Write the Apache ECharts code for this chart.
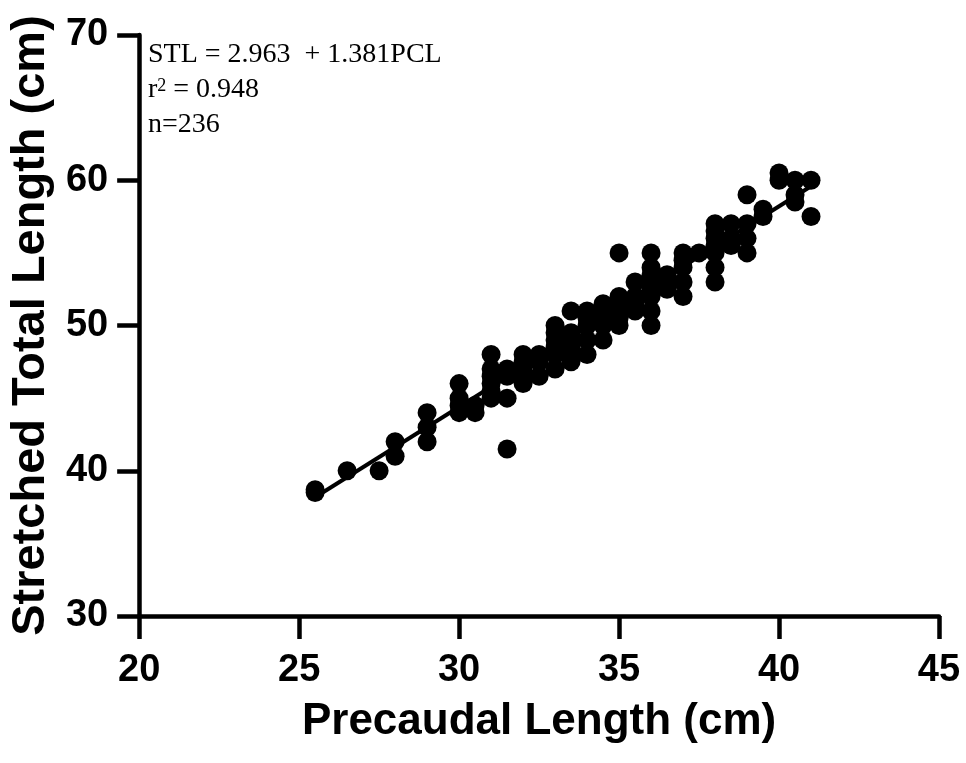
<!DOCTYPE html>
<html>
<head>
<meta charset="utf-8">
<script src="https://cdn.jsdelivr.net/npm/echarts@6/dist/echarts.min.js"></script>
<style>
html,body{margin:0;padding:0;background:#fff;}
#c{width:966px;height:763px;}
</style>
</head>
<body>
<div id="c"></div>
<script>
// Precaudal length (cm) and stretched total length (cm) pairs
const pcl = [
  25.5, 25.5, 26.5, 27.5, 28, 28, 29, 29, 29,
  30, 30, 30, 30, 30.5, 30.5,
  31, 31, 31, 31, 31, 31,
  31.5, 31.5, 31.5, 31.5,
  32, 32, 32, 32, 32,
  32.5, 32.5, 32.5,
  33, 33, 33, 33, 33, 33,
  33.5, 33.5, 33.5, 33.5, 33.5, 33.5,
  34, 34, 34, 34, 34,
  34.5, 34.5, 34.5, 34.5, 34.5,
  35, 35, 35, 35, 35, 35,
  35.5, 35.5, 35.5, 35.5,
  36, 36, 36, 36, 36, 36, 36, 36,
  36.5, 36.5, 36.5,
  37, 37, 37, 37, 37,
  37.5,
  38, 38, 38, 38, 38, 38, 38,
  38.5, 38.5, 38.5,
  39, 39, 39, 39,
  39.5, 39.5,
  40, 40,
  40.5, 40.5, 40.5,
  41, 41
];
const stl = [
  38.7, 38.5, 40, 40, 41, 42, 42, 43, 44,
  44, 44.5, 45, 46, 44, 44.5,
  45, 45.5, 46, 46.5, 47, 48,
  41.5, 45, 46.5, 47,
  46, 46.5, 47, 47.5, 48,
  46.5, 47.5, 48,
  47, 48, 48.5, 49, 49.5, 50,
  47.5, 48, 48.5, 49, 49.5, 51,
  48, 49, 50, 50.5, 51,
  49, 50, 50.5, 51, 51.5,
  50, 50.5, 51, 51.5, 52, 55,
  51, 51.5, 52, 53,
  50, 51, 52, 52.5, 53, 53.5, 54, 55,
  52.5, 53, 53.5,
  52, 53, 54, 54.5, 55,
  55,
  53, 54, 55, 55.5, 56, 56.5, 57,
  55.5, 56, 57,
  55, 56, 57, 59,
  57.5, 58,
  60, 60.5,
  58.5, 59, 60,
  57.5, 60
];
// Regression: STL = 2.963 + 1.381 PCL, drawn over the observed PCL range
const intercept = 2.963;
const slope = 1.381;
const fitRange = [25.5, 41];
const xTicks = [20, 25, 30, 35, 40, 45];
const yTicks = [30, 40, 50, 60, 70];

const points = pcl.map((x, i) => [x, stl[i]]);
const fitLine = fitRange.map(x => [x, intercept + slope * x]);

const sans = "'Liberation Sans', Arial, sans-serif";
const serif = "'Liberation Serif', 'Times New Roman', serif";

const chart = echarts.init(document.getElementById('c'), null, {renderer: 'canvas'});
chart.setOption({
  animation: false,
  backgroundColor: '#fff',
  grid: {left: 134, right: 27, top: 35, bottom: 147, containLabel: false},
  xAxis: {
    type: 'value',
    min: xTicks[0], max: xTicks[xTicks.length - 1], interval: 5,
    name: 'Precaudal Length (cm)',
    nameLocation: 'middle',
    nameGap: 84,
    nameTextStyle: {fontFamily: sans, fontWeight: 'bold', fontSize: 44, color: '#000'},
    axisLine: {show: true, onZero: false, lineStyle: {color: '#000', width: 4.5}},
    axisTick: {show: true, length: 23, lineStyle: {color: '#000', width: 4.5}},
    axisLabel: {fontFamily: sans, fontWeight: 'bold', fontSize: 38, color: '#000', margin: 36},
    splitLine: {show: false}
  },
  yAxis: {
    type: 'value',
    min: yTicks[0], max: yTicks[yTicks.length - 1], interval: 10,
    name: 'Stretched Total Length (cm)',
    nameLocation: 'middle',
    nameGap: 84,
    nameTextStyle: {fontFamily: sans, fontWeight: 'bold', fontSize: 47, color: '#000'},
    axisLine: {show: true, onZero: false, lineStyle: {color: '#000', width: 4.5}},
    axisTick: {show: true, length: 22, lineStyle: {color: '#000', width: 4.5}},
    axisLabel: {fontFamily: sans, fontWeight: 'bold', fontSize: 38, color: '#000', margin: 31},
    splitLine: {show: false}
  },
  graphic: [{
    type: 'text',
    left: 148, top: 37,
    style: {
      text: 'STL = 2.963  + 1.381PCL\n{r|r}{s|2}{r| = 0.948}\nn=236',
      fontFamily: serif, fontSize: 28, lineHeight: 35, fill: '#000',
      rich: {
        r: {fontFamily: serif, fontSize: 28, lineHeight: 35, fill: '#000'},
        s: {fontFamily: serif, fontSize: 18, lineHeight: 18, verticalAlign: 'top', padding: [5, 0, 0, 0], fill: '#000'}
      }
    }
  }],
  series: [
    {
      type: 'scatter',
      data: points,
      symbol: 'circle',
      symbolSize: 19,
      itemStyle: {color: '#000', opacity: 1},
      z: 2
    },
    {
      type: 'line',
      data: fitLine,
      symbol: 'none',
      lineStyle: {color: '#000', width: 4},
      z: 3
    }
  ]
});
</script>
</body>
</html>
